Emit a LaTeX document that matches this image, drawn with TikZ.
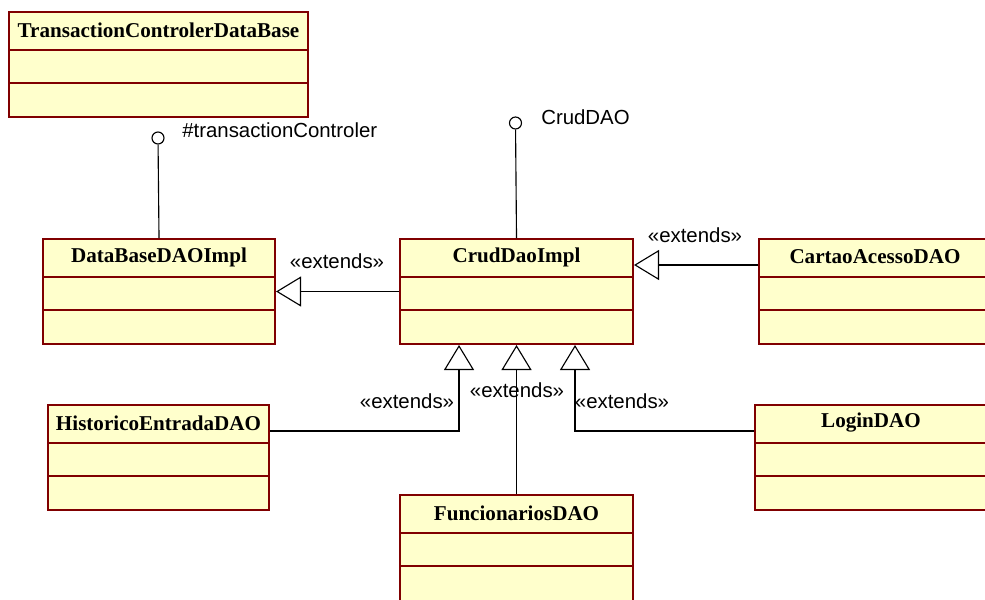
\documentclass[tikz,border=0pt]{standalone}
\usepackage{fontspec}
\setmainfont{Liberation Serif}
\setsansfont{Liberation Sans}
\usepackage{tikz}
\usetikzlibrary{arrows.meta, calc}
\definecolor{umlred}{RGB}{128,0,0}
\definecolor{umlfill}{RGB}{255,255,204}

\begin{document}
\begin{tikzpicture}[x=0.025cm, y=-0.025cm,
    classbox/.style={rectangle, draw=umlred, fill=umlfill, line width=1.4pt, anchor=north west, inner sep=0pt, minimum height=2.625cm},
    divider/.style={draw=umlred, line width=1.4pt},
    classname/.style={font=\fontsize{15}{18}\selectfont\bfseries, inner sep=0pt},
    stereo/.style={font=\sffamily\fontsize{14.5}{17}\selectfont, inner sep=0pt},
    iface/.style={circle, draw=black, fill=white, line width=0.8pt, minimum size=0.3cm, inner sep=0pt},
    extends/.style={line width=0.8pt, -{Triangle[open, length=0.625cm, width=0.75cm]}}]
    \path[use as bounding box, clip] (0,0) rectangle (985,599);
    \node[classbox, minimum width=7.475cm] (tcdb) at (8,11) {};
    \node[classbox, minimum width=5.8cm] (dbimpl) at (42,238) {};
    \node[classbox, minimum width=5.825cm] (crud) at (399,238) {};
    \node[classbox, minimum width=5.8cm] (cartao) at (758,238) {};
    \node[classbox, minimum width=5.525cm] (hist) at (47,404) {};
    \node[classbox, minimum width=5.8cm] (login) at (754,404) {};
    \node[classbox, minimum width=5.825cm, minimum height=2.8cm] (func) at (399,494) {};
    \foreach \c in {tcdb, dbimpl, crud, cartao, hist, login, func} {
        \draw[divider] ($(\c.north west)+(0,39)$) -- ($(\c.north east)+(0,39)$);
        \draw[divider] ($(\c.north west)+(0,72)$) -- ($(\c.north east)+(0,72)$);
    }
    \foreach \c/\t in {tcdb/TransactionControlerDataBase, dbimpl/DataBaseDAOImpl, crud/CrudDaoImpl,
        cartao/CartaoAcessoDAO, hist/HistoricoEntradaDAO, login/LoginDAO, func/FuncionariosDAO}
        \node[classname] (\c-name) at ($(\c.north)+(0,19)$) {\t};

    \node[iface] (tcif) at (158,138) {};
    \node[stereo, anchor=west] (tclbl) at (182,130) {\#transactionControler};
    \node[iface] (crudif) at (515.5,123) {};
    \node[stereo, anchor=west] (crudlbl) at (541,117) {CrudDAO};
    \draw[line width=0.8pt] (tcif) -- (dbimpl.north);
    \draw[line width=0.8pt] (crudif) -- (crud.north);

    \node[stereo] (ext1) at (337,261) {«extends»};
    \node[stereo] (ext2) at (695,235) {«extends»};
    \node[stereo] (ext3) at (407,401) {«extends»};
    \node[stereo] (ext4) at (517,390) {«extends»};
    \node[stereo] (ext5) at (622,401) {«extends»};
    \draw[extends] (crud.west) -- (dbimpl.east);
    \draw[extends] ($(cartao.west)+(0,-26.5)$) -- ($(crud.east)+(0,-26.5)$);
    \draw[extends] ($(hist.east)+(0,-26.5)$) -| ($(crud.south)+(-57.5,0)$);
    \draw[extends] (func.north) -- (crud.south);
    \draw[extends] ($(login.west)+(0,-26.5)$) -| ($(crud.south)+(58.5,0)$);
\end{tikzpicture}
\end{document}
